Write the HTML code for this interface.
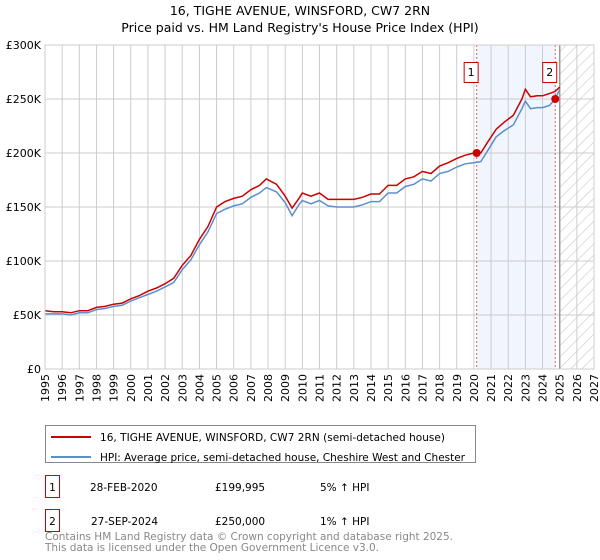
<!DOCTYPE html>
<html><head><meta charset="utf-8">
<style>
body{margin:0;background:#fff;font-family:"Liberation Sans","DejaVu Sans",sans-serif;}
#wrap{position:relative;width:600px;height:560px;overflow:hidden}
</style></head><body>
<div id="wrap">
<svg id="svg" width="600" height="560" xmlns="http://www.w3.org/2000/svg" font-family="DejaVu Sans, Liberation Sans, sans-serif">
<defs><pattern id="hatch" width="8" height="8" patternUnits="userSpaceOnUse" patternTransform="rotate(-45)"><rect width="8" height="8" fill="#fff"/><line x1="0" y1="0" x2="8" y2="0" stroke="#c8c8c8" stroke-width="1.2"/></pattern></defs>
<text x="300" y="15" text-anchor="middle" font-size="12.5">16, TIGHE AVENUE, WINSFORD, CW7 2RN</text>
<text x="300" y="32" text-anchor="middle" font-size="12.5">Price paid vs. HM Land Registry's House Price Index (HPI)</text>
<g id="plot"></g>
<g>
<rect x="45.5" y="425.5" width="430" height="37" fill="#fff" stroke="#888"/>
<line x1="51" y1="437" x2="91" y2="437" stroke="#cc0000" stroke-width="2"/>
<text x="100" y="441" font-size="10.5" textLength="345">16, TIGHE AVENUE, WINSFORD, CW7 2RN (semi-detached house)</text>
<line x1="51" y1="457" x2="91" y2="457" stroke="#5b8fd0" stroke-width="2"/>
<text x="100" y="461" font-size="10.5" textLength="365">HPI: Average price, semi-detached house, Cheshire West and Chester</text>
</g>
<g font-size="10.5">
<rect x="45.5" y="475.5" width="14" height="22" fill="#fff" stroke="#cc0000"/>
<text x="52.5" y="491" text-anchor="middle">1</text>
<text x="90" y="491">28-FEB-2020</text><text x="215" y="491">£199,995</text><text x="320" y="491">5% ↑ HPI</text>
<rect x="45.5" y="509.5" width="14" height="22" fill="#fff" stroke="#cc0000"/>
<text x="52.5" y="525" text-anchor="middle">2</text>
<text x="91" y="525">27-SEP-2024</text><text x="215" y="525">£250,000</text><text x="320" y="525">1% ↑ HPI</text>
</g>
<text x="45" y="540" font-size="10.5" fill="#888" textLength="408">Contains HM Land Registry data © Crown copyright and database right 2025.</text>
<text x="45" y="551" font-size="10.5" fill="#888" textLength="334">This data is licensed under the Open Government Licence v3.0.</text>
</svg></div>
<script>
const dates=[1995,1995.5,1996,1996.5,1997,1997.5,1998,1998.5,1999,1999.5,2000,2000.5,2001,2001.5,2002,2002.5,2003,2003.5,2004,2004.5,2005,2005.5,2006,2006.5,2007,2007.5,2007.9,2008.5,2009,2009.4,2009.8,2010,2010.5,2011,2011.5,2012,2012.5,2013,2013.5,2014,2014.5,2015,2015.5,2016,2016.5,2017,2017.5,2018,2018.5,2019,2019.5,2020,2020.4,2020.8,2021.3,2021.8,2022.3,2022.8,2023,2023.3,2023.7,2024,2024.4,2024.74,2025];
const priceK=[54,53,53,52,54,54,57,58,60,61,65,68,72,75,79,84,96,105,120,132,150,155,158,160,166,170,176,171,160,149,158,163,160,163,157,157,157,157,159,162,162,170,170,176,178,183,181,188,191,195,198,200,200,210,222,229,235,250,259,252,253,253,255,257,261];
const hpiK=[51,51,51,50,52,52,55,56,58,59,63,66,69,72,76,80,92,101,115,127,144,148,151,153,159,163,168,164,154,142,152,156,153,156,151,150,150,150,152,155,155,163,163,169,171,176,174,181,183,187,190,191,192,202,215,221,226,241,248,241,242,242,244,250,259];
const yTicks=[0,50,100,150,200,250,300];
const yTickLabels=["£0","£50K","£100K","£150K","£200K","£250K","£300K"];
const years=[1995,1996,1997,1998,1999,2000,2001,2002,2003,2004,2005,2006,2007,2008,2009,2010,2011,2012,2013,2014,2015,2016,2017,2018,2019,2020,2021,2022,2023,2024,2025,2026,2027];
const saleDates=[2020.16,2024.74];
const saleValues=[200,250];
const saleLabels=["1","2"];
const hatchStart=2025;

const L=45,R=594,T=45,B=369;
const X=y=>L+(y-1995)/(2027-1995)*(R-L);
const Y=v=>B-v/300*(B-T);
const NS="http://www.w3.org/2000/svg";
const g=document.getElementById('plot');
function mk(t,a){const e=document.createElementNS(NS,t);for(const k in a)e.setAttribute(k,a[k]);g.appendChild(e);return e;}
let e;
e=mk('rect',{x:X(saleDates[0]),y:T,width:X(saleDates[1])-X(saleDates[0]),height:B-T,fill:'#eef3fc',opacity:0.8});


e=mk('rect',{x:X(hatchStart),y:T,width:R-X(hatchStart),height:B-T,fill:'url(#hatch)'});


years.forEach(yr=>{
 e=mk('line',{x1:X(yr),y1:T,x2:X(yr),y2:B,stroke:'#cccccc','stroke-width':1});
 
 
 e=mk('text',{x:0,y:0,'font-size':11,'text-anchor':'end',transform:`translate(${X(yr)+4},${B+5}) rotate(-90)`});
 e.textContent=yr;
 
 
});
yTicks.forEach((v,i)=>{
 e=mk('line',{x1:L,y1:Y(v),x2:R,y2:Y(v),stroke:'#cccccc','stroke-width':1});
 
 
 e=mk('text',{x:L-4,y:Y(v)+4,'font-size':11,'text-anchor':'end'});
 e.textContent=yTickLabels[i];
 
 
});
e=mk('line',{x1:X(hatchStart),y1:T,x2:X(hatchStart),y2:B,stroke:'#999','stroke-width':1.5});


saleDates.forEach((d,i)=>{
 e=mk('line',{x1:X(d),y1:T,x2:X(d),y2:B,stroke:'#e06060','stroke-width':1,'stroke-dasharray':'2,2'});
 
 
});
const pts=(arr)=>arr.map((v,i)=>X(dates[i]).toFixed(1)+','+Y(v).toFixed(1)).join(' ');
e=mk('polyline',{points:pts(hpiK),fill:'none',stroke:'#5b8fd0','stroke-width':1.5});


e=mk('polyline',{points:pts(priceK),fill:'none',stroke:'#cc0000','stroke-width':1.5});


saleDates.forEach((d,i)=>{
 e=mk('circle',{cx:X(d),cy:Y(saleValues[i]),r:4,fill:'#cc0000'});
 
 
 e=mk('rect',{x:X(d)-12.5,y:62.5,width:14,height:20,fill:'#fff',stroke:'#cc0000'});
 
 
 e=mk('text',{x:X(d)-5.5,y:76,'font-size':11,'text-anchor':'middle'});
 e.textContent=saleLabels[i];
 
 
});
e=mk('rect',{x:L,y:T,width:R-L,height:B-T,fill:'none',stroke:'#cccccc'});


</script>
</body></html>
